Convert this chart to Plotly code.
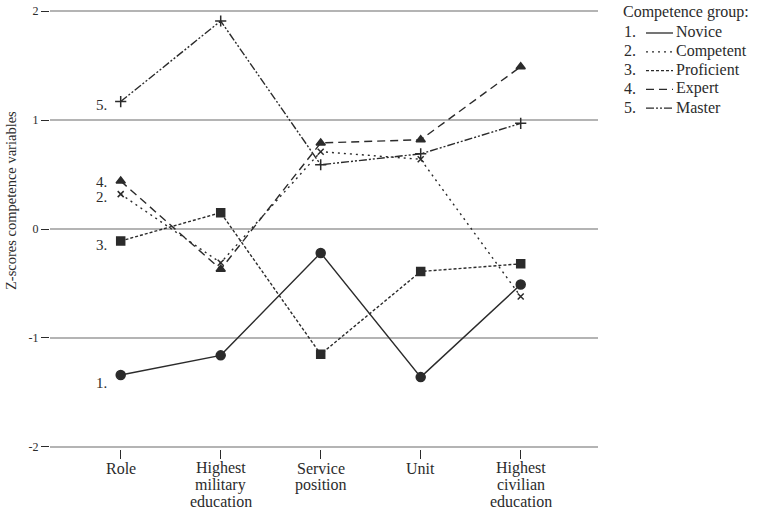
import plotly.graph_objects as go

# competence variables on the x axis
categories = ["Role", "Highest military education", "Service position",
              "Unit", "Highest civilian education"]
category_lines = [["Role"], ["Highest", "military", "education"],
                  ["Service", "position"], ["Unit"],
                  ["Highest", "civilian", "education"]]

# z-scores per competence group
novice = [-1.34, -1.16, -0.22, -1.36, -0.51]
competent = [0.32, -0.31, 0.71, 0.64, -0.62]
proficient = [-0.11, 0.15, -1.15, -0.39, -0.32]
expert = [0.44, -0.37, 0.79, 0.82, 1.49]
master = [1.17, 1.91, 0.59, 0.69, 0.97]

group_names = ["Novice", "Competent", "Proficient", "Expert", "Master"]
group_nums = ["1.", "2.", "3.", "4.", "5."]
y_ticks = [-2, -1, 0, 1, 2]
y_labels = ["-2", "-1", "0", "1", "2"]

FONT = "Liberation Serif"
INK = "#2b2b2b"

# plot area in pixels
W, H = 765, 512
L, R, T, B = 50, 167, 9, 63
PW, PH = W - L - R, H - T - B


def px(x):
    return (x - L) / PW


def py(y):
    return 1 - (y - T) / PH


series = [novice, competent, proficient, expert, master]
dashes = ["solid", "2px,4px", "3px,2px", "8px,5px", "8px,2px,2px,2px,2px,2px"]
symbols = ["circle", "x-thin", "square", "triangle-up", "cross-thin"]
msizes = [9, 6, 8, 8, 8]

fig = go.Figure()
for vals, name, dash, sym, ms in zip(series, group_names, dashes, symbols, msizes):
    fig.add_trace(go.Scatter(
        x=categories, y=vals, name=name, mode="lines+markers",
        line=dict(color=INK, width=1.4, dash=dash),
        marker=dict(symbol=sym, size=ms, color=INK,
                    line=dict(color=INK, width=1.5)),
        showlegend=False,
    ))

# category labels, one line at a time for tight leading
for cat, lines in zip(categories, category_lines):
    for k, txt in enumerate(lines):
        fig.add_annotation(x=cat, xref="x", yref="paper", y=0, text=txt,
                           showarrow=False, xanchor="center", yanchor="middle",
                           yshift=-19 - k * 16.5,
                           font=dict(family=FONT, size=16, color=INK))

# group numbers next to the first category
shifts = [-8, -3, -4, -1, -3]
for vals, num, ys in zip(series, group_nums, shifts):
    fig.add_annotation(x=categories[0], y=vals[0], text=num, showarrow=False,
                       xanchor="right", xshift=-12, yshift=ys,
                       font=dict(family=FONT, size=15, color=INK))

# hand-made legend
fig.add_annotation(xref="paper", yref="paper", x=px(621), y=py(12),
                   text="Competence group:", showarrow=False,
                   xanchor="left", yanchor="middle",
                   font=dict(family=FONT, size=16, color=INK))
for i, (num, name, dash) in enumerate(zip(group_nums, group_names, dashes)):
    yy = 32 + i * 18.8
    fig.add_annotation(xref="paper", yref="paper", x=px(622), y=py(yy),
                       text=num, showarrow=False, xanchor="left", yanchor="middle",
                       font=dict(family=FONT, size=16, color=INK))
    fig.add_shape(type="line", xref="paper", yref="paper",
                  x0=px(646), x1=px(673), y0=py(yy + 1), y1=py(yy + 1),
                  line=dict(color=INK, width=1.3, dash=dash))
    fig.add_annotation(xref="paper", yref="paper", x=px(674), y=py(yy),
                       text=name, showarrow=False, xanchor="left", yanchor="middle",
                       font=dict(family=FONT, size=16, color=INK))

# y axis title
fig.add_annotation(xref="paper", yref="paper", x=px(11), y=py(201),
                   text="Z-scores competence variables", textangle=-90,
                   showarrow=False, xanchor="center", yanchor="middle",
                   font=dict(family=FONT, size=14.5, color=INK))

fig.update_layout(
    width=W, height=H,
    margin=dict(l=L, r=R, t=T, b=B, autoexpand=False),
    plot_bgcolor="white", paper_bgcolor="white",
    font=dict(family=FONT, size=14, color=INK),
    xaxis=dict(range=[-0.707, 4.773], showgrid=False, zeroline=False,
               showline=False, ticks="outside", ticklen=9, tickwidth=1.2,
               tickcolor=INK, showticklabels=False, automargin=False),
    yaxis=dict(range=[-2.02, 2.02], tickvals=y_ticks, ticktext=y_labels,
               showgrid=True, gridcolor="#b4b4b4", gridwidth=1.5,
               zeroline=False, showline=False, ticks="outside", ticklen=8,
               tickwidth=1.2, tickcolor=INK, tickfont=dict(size=12),
               automargin=False),
)

# drop the browser's default page margin so the figure sits at 0,0
fig.write_html("out.html", config={"displayModeBar": False},
               post_script="document.body.style.margin='0';")
